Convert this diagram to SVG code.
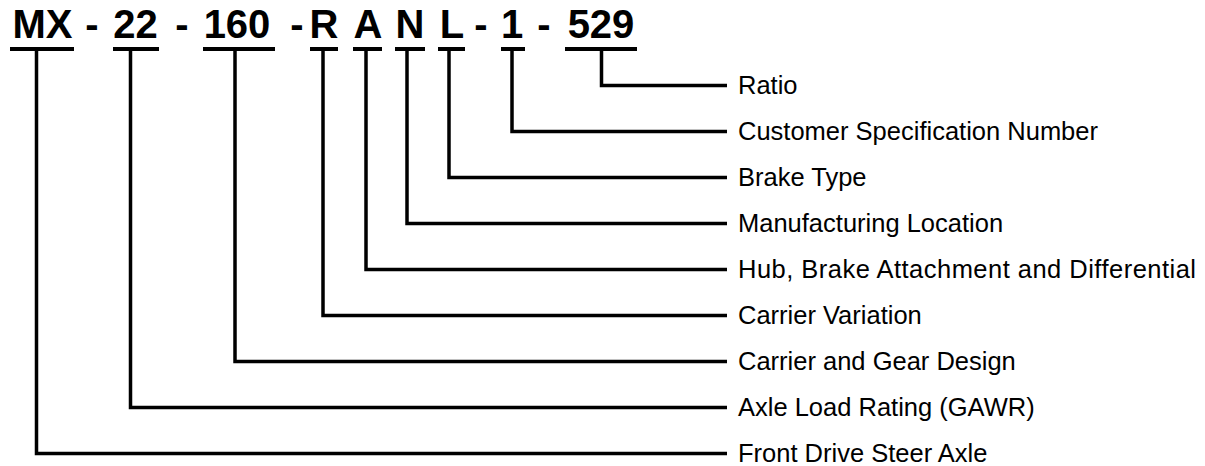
<svg xmlns="http://www.w3.org/2000/svg" width="1205" height="466" viewBox="0 0 1205 466">
<style>
.code{font-family:"Liberation Sans",Arial,sans-serif;font-weight:bold;font-size:40px;fill:#000;text-anchor:middle}
.lbl{font-family:"Liberation Sans",Arial,sans-serif;font-size:25.5px;fill:#000}
.ul{stroke:#000;stroke-width:4;fill:none}
.con{stroke:#000;stroke-width:3.5;fill:none;stroke-linejoin:miter}
</style>
<rect width="1205" height="466" fill="#fff"/>
<g id="code">
  <g id="seg-MX"><text class="code" x="42.5" y="38">MX</text><line class="ul" x1="10" y1="49" x2="74" y2="49"/></g>
  <text class="code" x="92" y="38">-</text>
  <g id="seg-22"><text class="code" x="135.5" y="38">22</text><line class="ul" x1="113" y1="49" x2="159" y2="49"/></g>
  <text class="code" x="182" y="38">-</text>
  <g id="seg-160"><text class="code" x="237" y="38">160</text><line class="ul" x1="203" y1="49" x2="275" y2="49"/></g>
  <text class="code" x="297" y="38">-</text>
  <g id="seg-R"><text class="code" x="324" y="38">R</text><line class="ul" x1="310" y1="49" x2="338" y2="49"/></g>
  <g id="seg-A"><text class="code" x="368" y="38">A</text><line class="ul" x1="353" y1="49" x2="382" y2="49"/></g>
  <g id="seg-N"><text class="code" x="410" y="38">N</text><line class="ul" x1="395" y1="49" x2="425" y2="49"/></g>
  <g id="seg-L"><text class="code" x="452" y="38">L</text><line class="ul" x1="438" y1="49" x2="465" y2="49"/></g>
  <text class="code" x="481" y="38">-</text>
  <g id="seg-1"><text class="code" x="512" y="38">1</text><line class="ul" x1="501" y1="49" x2="525" y2="49"/></g>
  <text class="code" x="544" y="38">-</text>
  <g id="seg-529"><text class="code" x="601" y="38">529</text><line class="ul" x1="565" y1="49" x2="637" y2="49"/></g>
</g>
<g id="connectors">
  <path class="con" d="M601.5,49 V85.5 H727"/>
  <path class="con" d="M512,49 V131.5 H727"/>
  <path class="con" d="M449,49 V177.5 H727"/>
  <path class="con" d="M407,49 V223.5 H727"/>
  <path class="con" d="M366,49 V269.5 H727"/>
  <path class="con" d="M323,49 V315.5 H727"/>
  <path class="con" d="M235,49 V361.5 H727"/>
  <path class="con" d="M130.5,49 V407.5 H727"/>
  <path class="con" d="M36.5,49 V453.5 H727"/>
</g>
<g id="labels">
  <text id="lbl-ratio" class="lbl" x="738" y="94">Ratio</text>
  <text id="lbl-customer" class="lbl" x="738" y="140">Customer Specification Number</text>
  <text id="lbl-brake" class="lbl" x="738" y="186">Brake Type</text>
  <text id="lbl-mfg" class="lbl" x="738" y="232">Manufacturing Location</text>
  <text id="lbl-hub" class="lbl" x="738" y="278" textLength="458" lengthAdjust="spacing">Hub, Brake Attachment and Differential</text>
  <text id="lbl-cv" class="lbl" x="738" y="324">Carrier Variation</text>
  <text id="lbl-cgd" class="lbl" x="738" y="370">Carrier and Gear Design</text>
  <text id="lbl-axle" class="lbl" x="738" y="416">Axle Load Rating (GAWR)</text>
  <text id="lbl-front" class="lbl" x="738" y="462">Front Drive Steer Axle</text>
</g>
</svg>
